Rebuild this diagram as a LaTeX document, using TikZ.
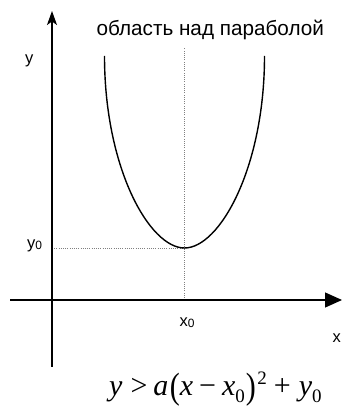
\documentclass[tikz,border=0pt]{standalone}
\usepackage{fontspec}
\setmainfont{Liberation Sans}
\newfontfamily\tms{Liberation Serif}
\usetikzlibrary{arrows.meta}
\tikzset{
  axis/.style={line width=1.2pt, black},
  guide/.style={gray, line width=0.6pt, dash pattern=on 0.8pt off 1.4pt},
  curve/.style={line width=1.4pt, black},
  lbl/.style={inner sep=0pt, font=\fontsize{16.5}{19}\selectfont},
}
\newcommand{\sub}[1]{\raisebox{-1pt}{\fontsize{12}{13}\selectfont #1}}
\newcommand{\fsub}[1]{\raisebox{-7pt}{\fontsize{19}{20}\selectfont #1}}
\newcommand{\fpar}[1]{\raisebox{-3pt}{\scalebox{1}[1.22]{#1}}}
\begin{document}
\begin{tikzpicture}[x=1pt,y=-1pt]
\useasboundingbox (0,0) rectangle (343,406);
% axes
\coordinate (ybot) at (52,366.5);
\coordinate (ytop) at (52,11);
\coordinate (xleft) at (10,300);
\coordinate (xright) at (342,300);
\coordinate (x0a) at (184.5,300);
\coordinate (x0b) at (184.5,48);
\coordinate (y0a) at (52,248);
\coordinate (vert) at (184.5,248);
\coordinate (ltop) at (104.5,56);
\coordinate (rtop) at (264.5,56);
\draw[guide] (x0a) -- (x0b);
\draw[guide] (y0a) -- (vert);
\draw[axis, -{Stealth[length=14pt,width=10pt,inset=3.5pt]}] (ybot) -- (ytop);
\draw[axis, -{Triangle[length=17pt,width=15pt]}] (xleft) -- (xright);
% parabola
\draw[curve] (ltop) .. controls (104.5,168) and (149.5,248) .. (vert)
             .. controls (219.5,248) and (264.5,168) .. (rtop);
% labels
\node[inner sep=0pt, anchor=base west, font=\fontsize{20.7}{24}\selectfont] (title) at (96.5,36) {область над параболой};
\node[lbl, anchor=base west] (ylab) at (25,63.5) {y};
\node[lbl, anchor=base west] (y0lab) at (27,248) {y\sub{0}};
\node[lbl, anchor=base west] (x0lab) at (179.5,326) {x\sub{0}};
\node[lbl, anchor=base west] (xlab) at (332.5,342) {x};
\node[inner sep=0pt, anchor=base west, font=\tms\fontsize{30}{34}\selectfont] (formula) at (109,395)
  {\itshape y\upshape\hspace{8pt}>\hspace{6pt}\itshape a\upshape\hspace{1.5pt}\fpar{(}\itshape x\upshape\hspace{6pt}−\hspace{6pt}\itshape x\upshape\fsub{0}\hspace{1pt}\fpar{)}\hspace{1.5pt}\raisebox{11pt}{\fontsize{19}{20}\selectfont 2}\hspace{7pt}+\hspace{8pt}\itshape y\upshape\fsub{0}};
\end{tikzpicture}
\end{document}
